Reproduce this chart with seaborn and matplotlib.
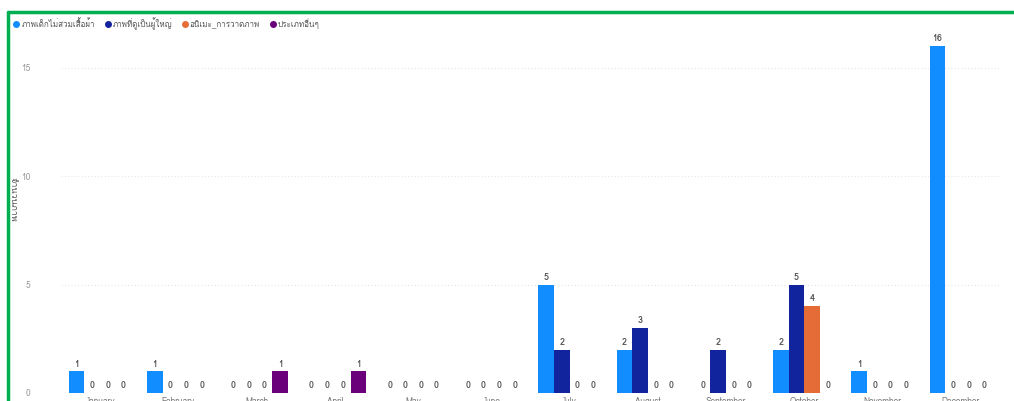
import matplotlib
matplotlib.use("Agg")
import matplotlib.pyplot as plt
import seaborn as sns
import pandas as pd
from matplotlib import font_manager
from matplotlib.ft2font import FT2Font

# data
months = ["January", "February", "March", "April", "May", "June", "July",
          "August", "September", "October", "November", "December"]
series = ["ภาพเด็กไม่สวมเสื้อผ้า", "ภาพที่ดูเป็นผู้ใหญ่", "อนิเมะ_การวาดภาพ", "ประเภทอื่นๆ"]
kids = [1, 1, 0, 0, 0, 0, 5, 2, 0, 2, 1, 16]
adult = [0, 0, 0, 0, 0, 0, 2, 3, 2, 5, 0, 0]
anime = [0, 0, 0, 0, 0, 0, 0, 0, 0, 4, 0, 0]
other = [0, 0, 1, 1, 0, 0, 0, 0, 0, 0, 0, 0]
colors = ["#118DFF", "#12239E", "#E66C37", "#6B007B"]

rows = []
for name, vals in zip(series, [kids, adult, anime, other]):
    for m, v in zip(months, vals):
        rows.append({"month": m, "type": name, "count": v})
df = pd.DataFrame(rows)

sns.set_style("white")

# look for an installed font that has Thai glyphs
thai = None
for f in font_manager.fontManager.ttflist:
    try:
        if 0x0E20 in FT2Font(f.fname).get_charmap():
            thai = f.name
            break
    except Exception:
        pass
fams = [thai, "DejaVu Sans"] if thai else ["DejaVu Sans"]
plt.rcParams["font.family"] = fams

fig = plt.figure(figsize=(10.14, 4.01), dpi=100)
ax = fig.add_axes([61 / 1014, 8 / 401, 939 / 1014, 358 / 401])

sns.barplot(data=df, x="month", y="count", hue="type", palette=colors,
            order=months, hue_order=series, width=0.8, saturation=1,
            linewidth=0, legend=False, ax=ax)

for c in ax.containers:
    ax.bar_label(c, fmt="%d", fontsize=6.5, fontweight="bold", color="#555555", padding=2)

ax.set_ylim(0, 16.5)
ax.set_yticks([0, 5, 10, 15])
ax.yaxis.grid(True, linestyle=(0, (1, 2)), color="#e6e6e6", linewidth=0.8)
ax.set_axisbelow(True)
ax.tick_params(axis="y", labelsize=6, colors="#999999", length=0, pad=22)
ax.tick_params(axis="x", labelsize=6, colors="#777777", length=0, pad=3)
ax.set_xlabel("")
ax.set_ylabel("จำนวนภาพ", fontsize=6.5, color="#555555", rotation=-90)
ax.yaxis.label.set_va("center")
ax.yaxis.label.set_ha("center")
ax.yaxis.set_label_coords(-0.051, 0.54)
for s in ax.spines.values():
    s.set_visible(False)

# legend like the top strip
handles = [plt.Line2D([], [], marker="o", linestyle="", color=c, markersize=4) for c in colors]
fig.legend(handles, series, loc="upper left", bbox_to_anchor=(10 / 1014, 1 - 14 / 401),
           ncol=4, frameon=False, fontsize=5.8, handletextpad=0.2, columnspacing=1.2,
           labelcolor="#555555", borderaxespad=0, handlelength=0.8)

# green frame around the visual
fig.add_artist(plt.Line2D([8 / 1014, 8 / 1014], [0, 1 - 12 / 401], color="#00B050", linewidth=2.5))
fig.add_artist(plt.Line2D([8 / 1014, 1], [1 - 12 / 401, 1 - 12 / 401], color="#00B050", linewidth=2.5))

fig.savefig("out.png", dpi=100)
